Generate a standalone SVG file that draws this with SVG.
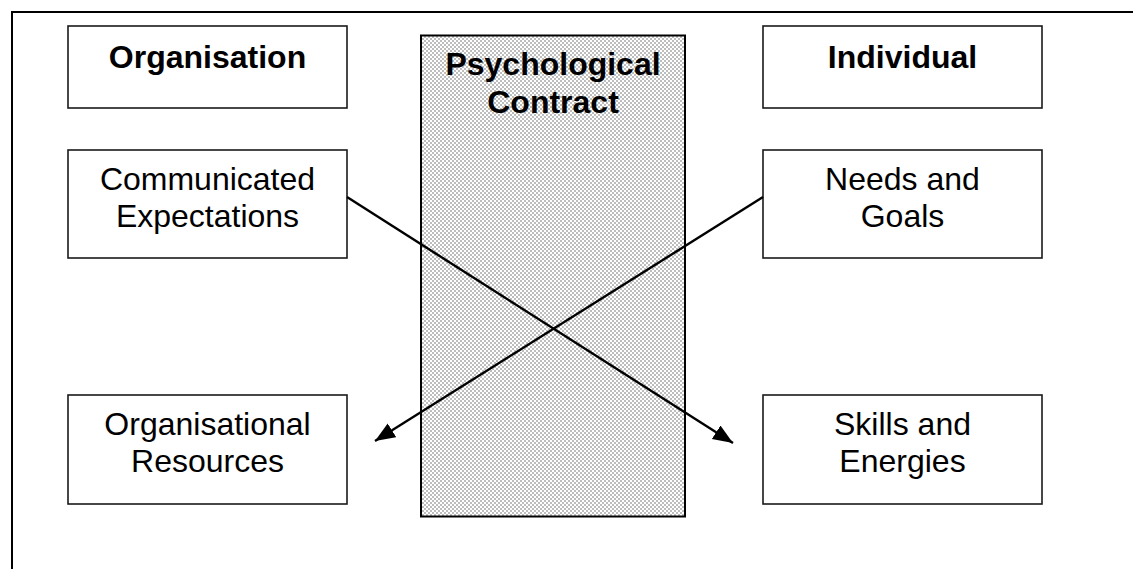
<svg xmlns="http://www.w3.org/2000/svg" width="1133" height="569" viewBox="0 0 1133 569">
  <style>
    .box { fill: #ffffff; stroke: #1a1a1a; stroke-width: 1.6; }
    .contract { fill: url(#dots); stroke: #000000; stroke-width: 2; }
    .frame { fill: none; stroke: #000000; stroke-width: 2; }
    .head { font-family: "Liberation Sans", Arial, sans-serif; font-weight: bold; font-size: 32px; fill: #000; text-anchor: middle; }
    .label { font-family: "Liberation Sans", Arial, sans-serif; font-size: 32px; fill: #000; text-anchor: middle; }
    .link { stroke: #000000; stroke-width: 2.4; fill: none; marker-end: url(#arrow); }
  </style>
  <defs>
    <!-- fine grey checker fill for the central box -->
    <pattern id="dots" x="0" y="0" width="4" height="4" patternUnits="userSpaceOnUse">
      <rect width="4" height="4" fill="#ffffff"/>
      <rect x="0" y="0" width="2" height="2" fill="#bdbdbd"/>
      <rect x="2" y="2" width="2" height="2" fill="#bdbdbd"/>
    </pattern>
    <marker id="arrow" markerUnits="userSpaceOnUse" markerWidth="22" markerHeight="18" refX="20" refY="8" orient="auto">
      <path d="M0,0 L20,8 L0,16 Z" fill="#000000"/>
    </marker>
  </defs>

  <!-- outer frame -->
  <rect class="frame" x="12" y="12" width="1140" height="580"/>

  <g id="contract">
    <rect class="contract" x="421" y="35.5" width="264" height="481"/>
    <text class="head" x="553" y="75">Psychological</text>
    <text class="head" x="553" y="112.5">Contract</text>
  </g>

  <g id="organisation">
    <rect class="box" x="68" y="26" width="279" height="82"/>
    <text class="head" x="207.5" y="68">Organisation</text>
  </g>

  <g id="individual">
    <rect class="box" x="763" y="26" width="279" height="82"/>
    <text class="head" x="902.5" y="68">Individual</text>
  </g>

  <g id="expectations">
    <rect class="box" x="68" y="150" width="279" height="108"/>
    <text class="label" x="207.5" y="190">Communicated</text>
    <text class="label" x="207.5" y="226.5">Expectations</text>
  </g>

  <g id="needs">
    <rect class="box" x="763" y="150" width="279" height="108"/>
    <text class="label" x="902.5" y="190">Needs and</text>
    <text class="label" x="902.5" y="226.5">Goals</text>
  </g>

  <g id="resources">
    <rect class="box" x="68" y="395" width="279" height="109"/>
    <text class="label" x="207.5" y="435">Organisational</text>
    <text class="label" x="207.5" y="471.5">Resources</text>
  </g>

  <g id="skills">
    <rect class="box" x="763" y="395" width="279" height="109"/>
    <text class="label" x="902.5" y="435">Skills and</text>
    <text class="label" x="902.5" y="471.5">Energies</text>
  </g>

  <g id="connectors">
    <line class="link" x1="347" y1="197" x2="733" y2="443"/>
    <line class="link" x1="763" y1="197" x2="375" y2="441"/>
  </g>
</svg>
